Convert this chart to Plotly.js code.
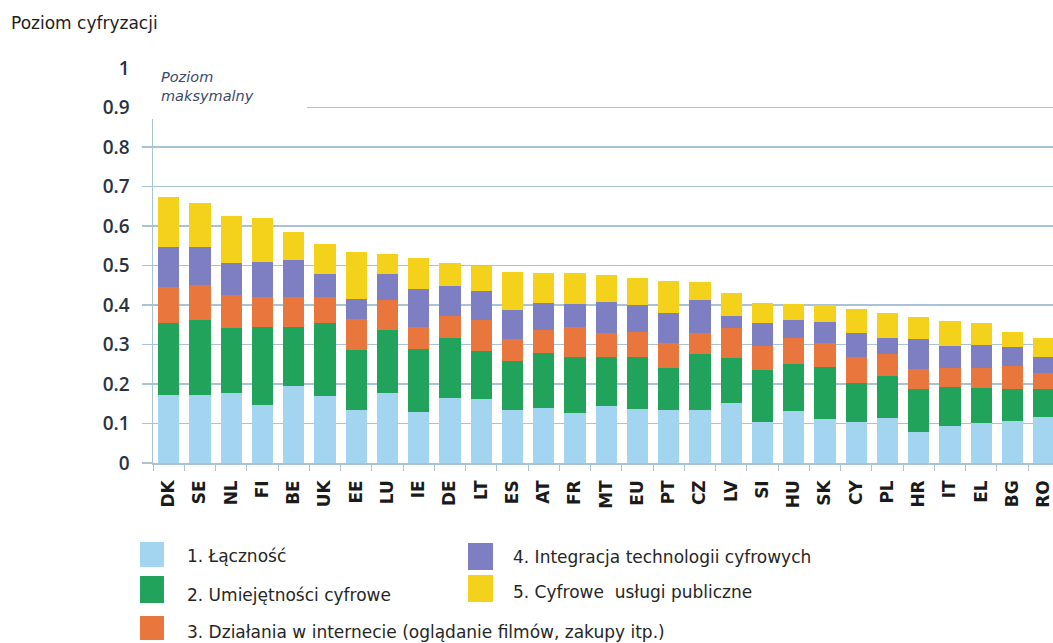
<!DOCTYPE html>
<html>
<head>
<meta charset="utf-8">
<script src="https://cdn.plot.ly/plotly-3.0.1.min.js"></script>
<style>html,body{margin:0;padding:0;background:#fff;overflow:hidden}#chart{width:1053px;height:643px}</style>
</head>
<body>
<div id="chart"></div>
<script>
const countries = ['DK','SE','NL','FI','BE','UK','EE','LU','IE','DE','LT','ES','AT','FR','MT','EU','PT','CZ','LV','SI','HU','SK','CY','PL','HR','IT','EL','BG','RO'];
const lacznosc     = [0.172,0.172,0.176,0.147,0.195,0.170,0.134,0.176,0.130,0.164,0.161,0.134,0.140,0.126,0.144,0.136,0.134,0.134,0.151,0.105,0.132,0.111,0.105,0.113,0.079,0.094,0.101,0.106,0.117];
const umiejetnosci = [0.183,0.190,0.167,0.198,0.150,0.184,0.152,0.161,0.158,0.152,0.123,0.125,0.138,0.143,0.124,0.132,0.106,0.142,0.114,0.130,0.119,0.133,0.097,0.107,0.108,0.098,0.088,0.081,0.070];
const dzialania    = [0.091,0.089,0.082,0.076,0.076,0.067,0.078,0.076,0.057,0.057,0.078,0.054,0.059,0.076,0.062,0.064,0.065,0.054,0.076,0.060,0.065,0.061,0.066,0.056,0.050,0.048,0.051,0.059,0.042];
const integracja   = [0.102,0.097,0.082,0.089,0.093,0.057,0.050,0.065,0.095,0.075,0.073,0.074,0.069,0.058,0.078,0.068,0.076,0.083,0.032,0.059,0.046,0.053,0.060,0.040,0.076,0.055,0.059,0.047,0.039];
const uslugi       = [0.126,0.109,0.118,0.111,0.072,0.076,0.121,0.050,0.078,0.059,0.064,0.097,0.076,0.079,0.068,0.068,0.080,0.046,0.057,0.050,0.041,0.042,0.061,0.065,0.057,0.064,0.055,0.039,0.048];

const seriesNames = ['1. Łączność','2. Umiejętności cyfrowe','3. Działania w internecie (oglądanie filmów, zakupy itp.)','4. Integracja technologii cyfrowych','5. Cyfrowe  usługi publiczne'];
const seriesColors = ['#a3d5f1','#21a35b','#e9763c','#7d7fc2','#f4d21b'];
const seriesValues = [lacznosc, umiejetnosci, dzialania, integracja, uslugi];

const yTickVals = [0,0.1,0.2,0.3,0.4,0.5,0.6,0.7,0.8,0.9,1];
const yTickText = ['0','0.1','0.2','0.3','0.4','0.5','0.6','0.7','0.8','0.9','1'];

const W = 1053, H = 643;
const L = 153, R = 0, T = 68, B = 180;
const PW = W - L - R, PH = H - T - B;
const px = x => (x - L) / PW;
const py = y => (H - B - y) / PH;

const traces = seriesValues.map((vals, i) => ({
  type: 'bar',
  x: countries,
  y: vals,
  name: seriesNames[i],
  marker: {color: seriesColors[i], line: {width: 0}},
  showlegend: false,
  hoverinfo: 'x+y+name'
}));

const gridColor = '#a9c3d6';
const textFont = 'DejaVu Sans, sans-serif';
const shapes = [];
const annotations = [];

// cover gridlines/axis in upper-left ("Poziom maksymalny" area)
shapes.push({type:'rect', xref:'paper', yref:'paper', x0:px(138), x1:px(307), y0:py(119), y1:py(55),
  fillcolor:'#ffffff', line:{width:0}, layer:'above'});

annotations.push({xref:'paper', yref:'paper', x:px(159), y:py(86), xanchor:'left', yanchor:'middle',
  text:'<i>Poziom<br>maksymalny</i>', showarrow:false, align:'left',
  font:{family:textFont, size:14.5, color:'#3c4a68'}});

// legend: custom two-column layout
const legendPos = [
  {sx:140, sw:24, sy0:542, sy1:567, tx:185, ty:556},
  {sx:140, sw:24, sy0:576, sy1:603, tx:185, ty:595},
  {sx:140, sw:24, sy0:616, sy1:640, tx:185, ty:632},
  {sx:468, sw:25, sy0:543, sy1:570, tx:511, ty:557},
  {sx:468, sw:25, sy0:575, sy1:602, tx:511, ty:592}
];
legendPos.forEach((p, i) => {
  shapes.push({type:'rect', xref:'paper', yref:'paper', x0:px(p.sx), x1:px(p.sx+p.sw), y0:py(p.sy1), y1:py(p.sy0),
    fillcolor:seriesColors[i], line:{width:0}, layer:'above'});
  annotations.push({xref:'paper', yref:'paper', x:px(p.tx), y:py(p.ty), xanchor:'left', yanchor:'middle',
    text:seriesNames[i], showarrow:false, font:{family:textFont, size:17, color:'#262626'}});
});

const layout = {
  width: W, height: H,
  margin: {l:L, r:R, t:T, b:B, pad:0},
  paper_bgcolor:'#ffffff', plot_bgcolor:'#ffffff',
  barmode:'stack', bargap:0.32,
  title: {text:'Poziom cyfryzacji', x:11/W, xref:'container', xanchor:'left', y:1-23/H, yref:'container', yanchor:'middle',
    font:{family:textFont, size:17, color:'#1e1e1e'}},
  xaxis: {
    type:'category', range:[-0.5, 28.3], fixedrange:true,
    showline:true, linecolor:gridColor, linewidth:1.5,
    ticks:'outside', tickson:'boundaries', ticklen:6, tickcolor:gridColor, tickwidth:1,
    tickangle:-90, ticklabelstandoff:9,
    tickfont:{family:textFont, size:17, color:'#1a1a1a', weight:'bold'},
    showgrid:false, zeroline:false
  },
  yaxis: {
    range:[0,1], fixedrange:true,
    tickvals:yTickVals, ticktext:yTickText,
    showgrid:true, gridcolor:gridColor, gridwidth:1.5,
    showline:true, linecolor:gridColor, linewidth:1.5,
    ticks:'outside', ticklen:10, tickcolor:gridColor, tickwidth:1.5,
    ticklabelstandoff:8,
    tickfont:{family:'Open Sans, sans-serif', size:19, color:'#2a3340', weight:600},
    zeroline:false
  },
  shapes: shapes,
  annotations: annotations
};

Plotly.newPlot('chart', traces, layout, {staticPlot:true, displayModeBar:false});
</script>
</body>
</html>
